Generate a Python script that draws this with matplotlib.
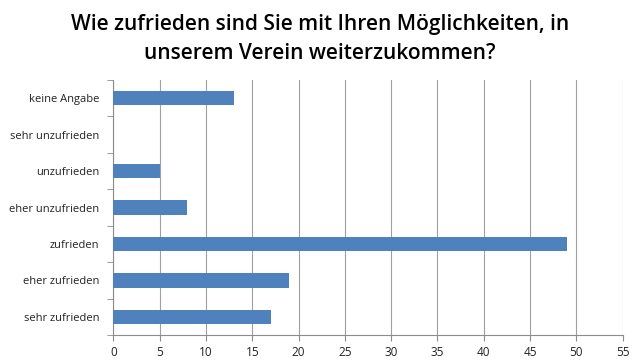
import numpy as np
import matplotlib.pyplot as plt

categories = ['sehr zufrieden', 'eher zufrieden', 'zufrieden', 'eher unzufrieden',
              'unzufrieden', 'sehr unzufrieden', 'keine Angabe']
counts = [17, 19, 49, 8, 5, 0, 13]
x_ticks = list(range(0, 60, 5))
title = 'Wie zufrieden sind Sie mit Ihren Möglichkeiten, in\nunserem Verein weiterzukommen?'

plt.rcParams['font.family'] = ['Open Sans', 'DejaVu Sans']

fig = plt.figure(figsize=(6.4, 3.6), dpi=100)
ax = fig.add_axes([0.177, 0.069, 0.796, 0.709])

y = np.arange(len(categories))
ax.barh(y, counts, height=0.4, color='#4F81BD', zorder=3)

ax.set_xlim(0, 55)
ax.set_ylim(-0.5, len(categories) - 0.5)
ax.set_xticks(x_ticks)
ax.set_yticks(y)
ax.set_yticklabels(categories)
ax.set_yticks(np.arange(-0.5, len(categories), 1), minor=True)

ax.grid(axis='x', color='#a0a0a0', linewidth=0.8, zorder=0)
for side in ['top', 'right']:
    ax.spines[side].set_visible(False)
for side in ['left', 'bottom']:
    ax.spines[side].set_color('#8c8c8c')

ax.tick_params(axis='y', which='major', length=0, labelsize=8, pad=10, colors='#222222')
ax.tick_params(axis='y', which='minor', length=4, color='#8c8c8c')
ax.tick_params(axis='x', length=4, color='#8c8c8c', labelsize=8.5, colors='#222222')

fig.text(0.5, 0.96, title, ha='center', va='top', fontsize=15, fontweight='semibold',
         linespacing=1.45)

fig.savefig('out.png', dpi=100, facecolor='white')
